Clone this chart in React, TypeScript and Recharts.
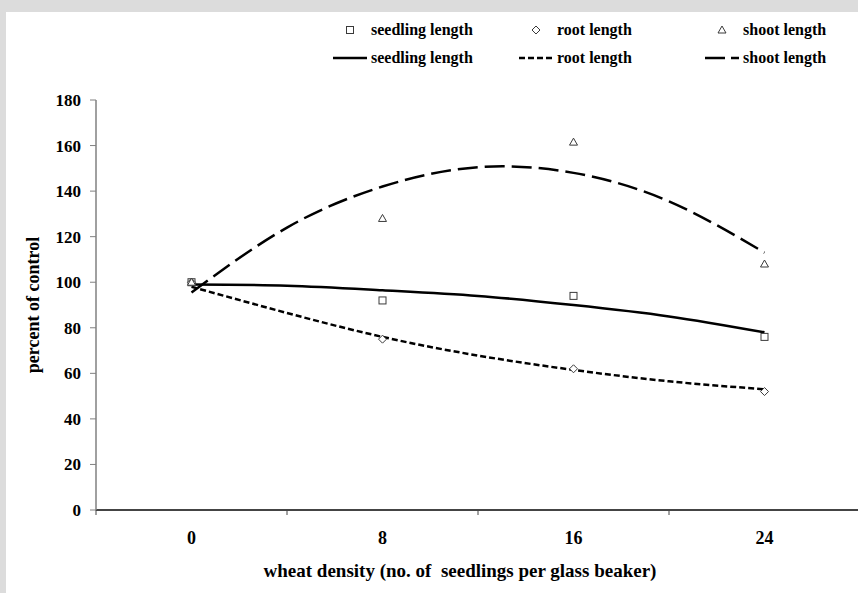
import React from "react";
import { ComposedChart, Line, Scatter, XAxis, YAxis, Legend, Label } from "recharts";

// measured points (percent of control)
const densities = [0, 8, 16, 24];
const seedlingLength = [100, 92, 94, 76];
const rootLength = [100, 75, 62, 52];
const shootLength = [100, 128, 161.5, 108];

// trend lines
const trendX = [0, 4, 8, 12, 16, 20, 24];
const seedlingTrend = [99, 98.5, 96.5, 94, 90, 85, 78];
const rootTrend = [98, 86.5, 76, 67.8, 61.5, 56.5, 53];
const shootTrend = [95.5, 124, 142, 150.5, 148, 135.5, 113];

const yTicks = [0, 20, 40, 60, 80, 100, 120, 140, 160, 180];
const xTicks = [-4, 0, 4, 8, 12, 16, 20, 24, 28];

const FONT = "Liberation Serif, DejaVu Serif, serif";

const toPoints = (xs: number[], ys: number[]) => xs.map((x, i) => ({ x, y: ys[i] }));

const seedlingPts = toPoints(densities, seedlingLength);
const rootPts = toPoints(densities, rootLength);
const shootPts = toPoints(densities, shootLength);

const MARK = "#3a3a3a";

const Square = (p: any) => (
  <rect x={p.cx - 3.5} y={p.cy - 3.5} width={7} height={7} fill="#fff" stroke={MARK} strokeWidth={1} />
);
const Diamond = (p: any) => (
  <path d={`M${p.cx},${p.cy - 4}L${p.cx + 4},${p.cy}L${p.cx},${p.cy + 4}L${p.cx - 4},${p.cy}Z`} fill="#fff" stroke={MARK} strokeWidth={1} />
);
const Triangle = (p: any) => (
  <path d={`M${p.cx},${p.cy - 4}L${p.cx + 4},${p.cy + 3}L${p.cx - 4},${p.cy + 3}Z`} fill="#fff" stroke={MARK} strokeWidth={1} />
);

const XTick = (props: any) => {
  const { x, y, payload } = props;
  const v = payload.value;
  if (v % 8 === 0) {
    return (
      <text x={x} y={y + 13} textAnchor="middle" style={{ fontFamily: FONT }} fontWeight="bold" fontSize={18} fill="#000">
        {v}
      </text>
    );
  }
  // category boundary tick
  return <line x1={x} x2={x} y1={y - 21} y2={y - 16} stroke="#444" strokeWidth={1} />;
};

const YTitle = (props: any) => {
  const vb = props.viewBox;
  const cx = vb.x + 27;
  const cy = vb.y + vb.height / 2;
  return (
    <text x={cx} y={cy} transform={`rotate(-90 ${cx} ${cy})`} textAnchor="middle" dominantBaseline="central"
      style={{ fontFamily: FONT }} fontWeight="bold" fontSize={18} fill="#000">
      percent of control
    </text>
  );
};

const XTitle = (props: any) => {
  const vb = props.viewBox;
  return (
    <text x={vb.x + vb.width / 2 - 18} y={vb.y + 60} textAnchor="middle" dominantBaseline="central"
      style={{ fontFamily: FONT, whiteSpace: "pre" }} fontWeight="bold" fontSize={19} fill="#000">
      {"wheat density (no. of  seedlings per glass beaker)"}
    </text>
  );
};

const legendNames = ["seedling length", "root length", "shoot length"];
const legendMarks = [Square, Diamond, Triangle];
const legendDash = [undefined, "6 3", "20 6"];

const LegendBox = () => {
  const cell = (icon: React.ReactNode, name: string, key: string) => (
    <div key={key} style={{ display: "flex", alignItems: "center", height: 28 }}>
      <svg width={34} height={14} style={{ marginRight: 4 }}>{icon}</svg>
      <span style={{ fontFamily: FONT, fontWeight: "bold", fontSize: 16, color: "#000", whiteSpace: "pre" }}>{name}</span>
    </div>
  );
  return (
    <div style={{ display: "grid", gridTemplateColumns: "186px 186px 130px" }}>
      {legendNames.map((n, i) => {
        const M = legendMarks[i];
        return cell(<M cx={17} cy={7} />, n, "m" + i);
      })}
      {legendNames.map((n, i) =>
        cell(<line x1={0} x2={34} y1={7} y2={7} stroke="#000" strokeWidth={2.5} strokeDasharray={legendDash[i]} />, n, "l" + i)
      )}
    </div>
  );
};

export default function App() {
  return (
    <div style={{ position: "absolute", left: 0, top: 0, width: 858, height: 593, background: "#dcdcdc", overflow: "hidden", fontFamily: FONT }}>
      <div style={{ position: "absolute", left: 6, top: 12, width: 852, height: 581, background: "#fff" }}>
        <ComposedChart width={854} height={581} margin={{ top: 88, right: 0, bottom: 0, left: 0 }}>
          <XAxis dataKey="x" type="number" domain={[-4, 28]} ticks={xTicks} interval={0} allowDataOverflow
            height={83} tickSize={5} tickMargin={16} tickLine={false} tick={<XTick />}
            axisLine={{ stroke: "#444", strokeWidth: 2 }}>
            <Label content={XTitle} />
          </XAxis>
          <YAxis type="number" domain={[0, 180]} ticks={yTicks} interval={0} width={90}
            tickSize={6} tickMargin={9} tickLine={{ stroke: "#808080" }}
            axisLine={{ stroke: "#808080", strokeWidth: 1.5 }}
            tick={{ style: { fontFamily: FONT }, fontWeight: "bold", fontSize: 17, fill: "#000" }}>
            <Label content={YTitle} />
          </YAxis>
          <Legend verticalAlign="middle" layout="horizontal" content={LegendBox}
            wrapperStyle={{ top: 4, left: 327, width: 520 }} />
          <Line data={toPoints(trendX, seedlingTrend)} dataKey="y" type="natural" stroke="#000" strokeWidth={2.5}
            dot={false} isAnimationActive={false} />
          <Line data={toPoints(trendX, rootTrend)} dataKey="y" type="natural" stroke="#000" strokeWidth={2.5}
            strokeDasharray="6 3" dot={false} isAnimationActive={false} />
          <Line data={toPoints(trendX, shootTrend)} dataKey="y" type="natural" stroke="#000" strokeWidth={2.5}
            strokeDasharray="20 7" dot={false} isAnimationActive={false} />
          <Scatter data={seedlingPts} dataKey="y" shape={Square} isAnimationActive={false} />
          <Scatter data={rootPts} dataKey="y" shape={Diamond} isAnimationActive={false} />
          <Scatter data={shootPts} dataKey="y" shape={Triangle} isAnimationActive={false} />
        </ComposedChart>
      </div>
    </div>
  );
}
